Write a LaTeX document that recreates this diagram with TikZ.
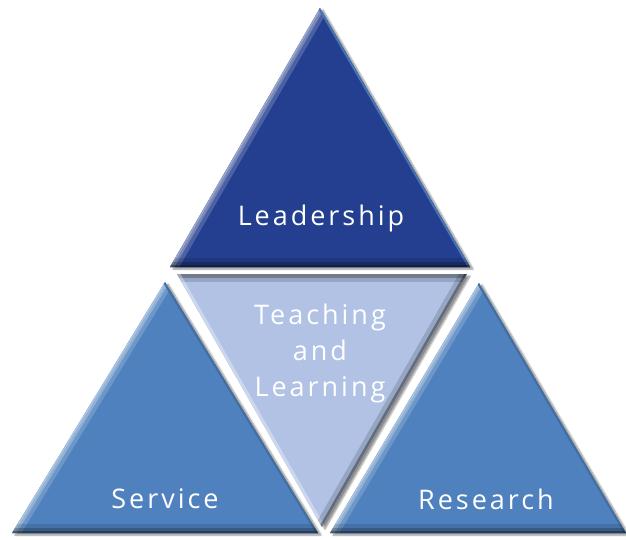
\documentclass[tikz,border=0pt]{standalone}
\usepackage{fontspec}
\newfontfamily\lbl{Open Sans}[LetterSpace=11]
\usetikzlibrary{shadows.blur}
\definecolor{topblue}{RGB}{36,63,143}
\definecolor{midblue}{RGB}{79,129,190}
\definecolor{lightblue}{RGB}{177,194,228}
\tikzset{
  lab/.style={text=white,font=\lbl\fontsize{27}{36}\selectfont,align=center,inner sep=0pt},
  tshadow/.style={blur shadow={shadow xshift=3pt,shadow yshift=-2pt,shadow blur steps=6,shadow opacity=45}}
}
\newcommand\bevtri[5]{%
  \fill[#4,tshadow] (#1)--(#2)--(#3)--cycle;
  \begin{scope}
    \clip (#1)--(#2)--(#3)--cycle;
    \fill[#4] (#1)--(#2)--(#3)--cycle;
    \draw[white,opacity=.18,line width=16pt] (#1)--(#2);
    \draw[white,opacity=.25,line width=8pt] (#1)--(#2);
    \draw[white,opacity=.25,line width=3pt] (#1)--(#2);
    \draw[#5,line width=4pt] (#1)--(#3);
    \draw[black,opacity=.12,line width=18pt] (#2)--(#3);
    \draw[black,opacity=.2,line width=10pt] (#2)--(#3);
    \draw[black,opacity=.3,line width=4pt] (#2)--(#3);
  \end{scope}}
\begin{document}
\begin{tikzpicture}[x=1pt,y=-1pt]
\useasboundingbox (0,0) rectangle (626,540);
% vertices
\coordinate (ta) at (320,8);   \coordinate (tl) at (170,267); \coordinate (tr) at (470,267);
\coordinate (la) at (165,282); \coordinate (ll) at (12,533);  \coordinate (lr) at (318,533);
\coordinate (ra) at (479,283); \coordinate (rl) at (330,533); \coordinate (rr) at (626,533);
\coordinate (ml) at (177,274); \coordinate (mr) at (467,274); \coordinate (mb) at (322,527);
% middle inverted triangle
\fill[lightblue,tshadow] (ml)--(mr)--(mb)--cycle;
\begin{scope}
  \clip (ml)--(mr)--(mb)--cycle;
  \fill[lightblue] (ml)--(mr)--(mb)--cycle;
  \draw[black,opacity=.15,line width=16pt] (ml)--(mr);
  \draw[black,opacity=.25,line width=8pt] (ml)--(mr);
  \draw[white,opacity=.35,line width=6pt] (ml)--(mb);
  \draw[black,opacity=.15,line width=14pt] (mr)--(mb);
  \draw[black,opacity=.35,line width=5pt] (mr)--(mb);
\end{scope}
% outer triangles
\bevtri{ta}{tl}{tr}{topblue}{midblue!80!topblue}
\bevtri{la}{ll}{lr}{midblue}{midblue!85!black}
\bevtri{ra}{rl}{rr}{midblue}{midblue!85!black}
% labels
\node[lab] (lead) at (321,218) {Leadership};
\node[lab] (teach) at (320,353) {Teaching\\and\\Learning};
\node[lab] (serv) at (165,499) {Service};
\node[lab] (res) at (486,499) {Research};
\end{tikzpicture}
\end{document}
